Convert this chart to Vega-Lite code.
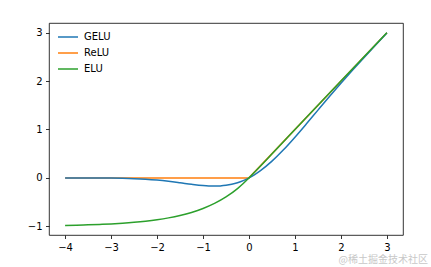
{
  "$schema": "https://vega.github.io/schema/vega-lite/v6.json",
  "width": 354,
  "height": 212,
  "autosize": {"type": "none"},
  "padding": {"left": 49, "top": 23, "right": 28, "bottom": 32},
  "config": {
    "font": "DejaVu Sans",
    "view": {"stroke": "#000", "strokeWidth": 0.8},
    "axis": {"domain": false, "grid": false, "tickColor": "#000", "tickSize": 3.5, "tickWidth": 0.8, "labelColor": "#000", "labelFontSize": 10, "labelPadding": 3.5, "title": null}
  },
  "title": {"text": "@稀土掘金技术社区", "orient": "bottom", "anchor": "end", "font": "Noto Sans CJK SC", "fontSize": 10, "fontWeight": "normal", "color": "#c8c8c8", "offset": 3, "dx": 25},
  "data": {"values": [
    {"x": -4, "y": -0.00013, "f": "GELU"},
    {"x": -3.75, "y": -0.00033, "f": "GELU"},
    {"x": -3.5, "y": -0.00081, "f": "GELU"},
    {"x": -3.25, "y": -0.00188, "f": "GELU"},
    {"x": -3, "y": -0.00405, "f": "GELU"},
    {"x": -2.75, "y": -0.0082, "f": "GELU"},
    {"x": -2.5, "y": -0.0155, "f": "GELU"},
    {"x": -2.25, "y": -0.0275, "f": "GELU"},
    {"x": -2, "y": -0.0455, "f": "GELU"},
    {"x": -1.75, "y": -0.0701, "f": "GELU"},
    {"x": -1.5, "y": -0.1002, "f": "GELU"},
    {"x": -1.25, "y": -0.1321, "f": "GELU"},
    {"x": -1, "y": -0.1587, "f": "GELU"},
    {"x": -0.875, "y": -0.1669, "f": "GELU"},
    {"x": -0.75, "y": -0.17, "f": "GELU"},
    {"x": -0.625, "y": -0.1663, "f": "GELU"},
    {"x": -0.5, "y": -0.1543, "f": "GELU"},
    {"x": -0.375, "y": -0.1323, "f": "GELU"},
    {"x": -0.25, "y": -0.1003, "f": "GELU"},
    {"x": -0.125, "y": -0.0563, "f": "GELU"},
    {"x": 0, "y": 0, "f": "GELU"},
    {"x": 0.125, "y": 0.0687, "f": "GELU"},
    {"x": 0.25, "y": 0.1497, "f": "GELU"},
    {"x": 0.5, "y": 0.3457, "f": "GELU"},
    {"x": 0.75, "y": 0.58, "f": "GELU"},
    {"x": 1, "y": 0.8413, "f": "GELU"},
    {"x": 1.25, "y": 1.1179, "f": "GELU"},
    {"x": 1.5, "y": 1.3998, "f": "GELU"},
    {"x": 1.75, "y": 1.6799, "f": "GELU"},
    {"x": 2, "y": 1.9545, "f": "GELU"},
    {"x": 2.25, "y": 2.2225, "f": "GELU"},
    {"x": 2.5, "y": 2.4845, "f": "GELU"},
    {"x": 2.75, "y": 2.7418, "f": "GELU"},
    {"x": 3, "y": 2.996, "f": "GELU"},
    {"x": -4, "y": 0, "f": "ReLU"},
    {"x": 0, "y": 0, "f": "ReLU"},
    {"x": 3, "y": 3, "f": "ReLU"},
    {"x": -4, "y": -0.9817, "f": "ELU"},
    {"x": -3.75, "y": -0.9765, "f": "ELU"},
    {"x": -3.5, "y": -0.9698, "f": "ELU"},
    {"x": -3.25, "y": -0.9612, "f": "ELU"},
    {"x": -3, "y": -0.9502, "f": "ELU"},
    {"x": -2.75, "y": -0.9361, "f": "ELU"},
    {"x": -2.5, "y": -0.9179, "f": "ELU"},
    {"x": -2.25, "y": -0.8946, "f": "ELU"},
    {"x": -2, "y": -0.8647, "f": "ELU"},
    {"x": -1.75, "y": -0.8262, "f": "ELU"},
    {"x": -1.5, "y": -0.7769, "f": "ELU"},
    {"x": -1.25, "y": -0.7135, "f": "ELU"},
    {"x": -1, "y": -0.6321, "f": "ELU"},
    {"x": -0.75, "y": -0.5276, "f": "ELU"},
    {"x": -0.5, "y": -0.3935, "f": "ELU"},
    {"x": -0.25, "y": -0.2212, "f": "ELU"},
    {"x": -0.125, "y": -0.1175, "f": "ELU"},
    {"x": 0, "y": 0, "f": "ELU"},
    {"x": 1, "y": 1, "f": "ELU"},
    {"x": 2, "y": 2, "f": "ELU"},
    {"x": 3, "y": 3, "f": "ELU"}
  ]},
  "encoding": {
    "x": {"field": "x", "type": "quantitative", "scale": {"domain": [-4.35, 3.35], "nice": false, "zero": false}, "axis": {"values": [-4, -3, -2, -1, 0, 1, 2, 3]}},
    "y": {"field": "y", "type": "quantitative", "scale": {"domain": [-1.18, 3.2], "nice": false, "zero": false}, "axis": {"values": [-1, 0, 1, 2, 3]}},
    "color": {
      "field": "f", "type": "nominal",
      "sort": ["GELU", "ReLU", "ELU"],
      "scale": {"domain": ["GELU", "ReLU", "ELU"], "range": ["#1f77b4", "#ff7f0e", "#2ca02c"]},
      "legend": {"title": null, "orient": "none", "legendX": 8, "legendY": 3, "symbolType": "stroke", "symbolSize": 400, "symbolStrokeWidth": 1.5, "labelFontSize": 10, "labelColor": "#000", "labelOffset": 5, "rowPadding": -5, "padding": 0}
    },
    "order": {"field": "x", "type": "quantitative"}
  },
  "layer": [
    {
      "transform": [{"filter": "datum.f === 'ReLU'"}],
      "mark": {"type": "line", "strokeWidth": 1.5, "interpolate": "linear", "clip": true}
    },
    {
      "transform": [{"filter": "datum.f !== 'ReLU'"}],
      "mark": {"type": "line", "strokeWidth": 1.5, "interpolate": "monotone", "clip": true}
    }
  ]
}
